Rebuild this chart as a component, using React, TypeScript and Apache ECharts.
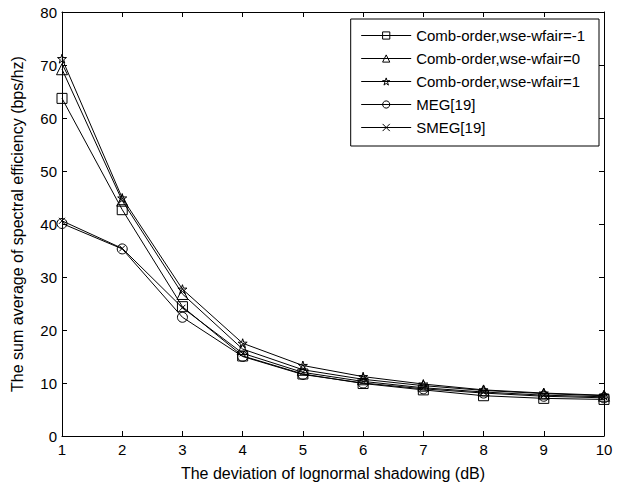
import React, { useEffect, useRef } from "react";
import * as echarts from "echarts";

const xValues = [1, 2, 3, 4, 5, 6, 7, 8, 9, 10];
const combNeg1 = [63.7, 42.7, 24.4, 15.1, 11.7, 9.9, 8.7, 7.6, 7.1, 6.9];
const comb0 = [69.2, 44.4, 26.8, 16.4, 12.5, 10.7, 9.5, 8.6, 8.0, 7.6];
const comb1 = [71.2, 44.9, 27.7, 17.5, 13.3, 11.2, 9.8, 8.7, 8.1, 7.7];
const meg = [40.1, 35.3, 22.4, 15.0, 11.6, 10.0, 8.9, 8.1, 7.5, 7.2];
const smeg = [40.6, 35.4, 24.2, 15.6, 12.0, 10.3, 9.1, 8.3, 7.7, 7.4];

const seriesNames = [
  "Comb-order,wse-wfair=-1",
  "Comb-order,wse-wfair=0",
  "Comb-order,wse-wfair=1",
  "MEG[19]",
  "SMEG[19]",
];

const STAR =
  "path://M0 -10 L2.245 -3.09 L9.511 -3.09 L3.633 1.18 L5.878 8.09 L0 3.82 L-5.878 8.09 L-3.633 1.18 L-9.511 -3.09 L-2.245 -3.09 Z";
const CROSS = "path://M0 0 L10 10 M10 0 L0 10";

const FONT = "Liberation Sans, Arial, sans-serif";

export default function App() {
  const ref = useRef<HTMLDivElement>(null);
  useEffect(() => {
    if (!ref.current) return;
    const chart = echarts.init(ref.current, undefined, { renderer: "svg" });
    const allData = [combNeg1, comb0, comb1, meg, smeg];
    const symbols = ["rect", "triangle", STAR, "circle", CROSS];
    const sizes = [10, 11, 9, 10, 6];
    const axisCommon = {
      type: "value" as const,
      axisLine: { show: true, onZero: false, lineStyle: { color: "#000", width: 1 } },
      axisTick: { show: true, inside: true, length: 5, lineStyle: { color: "#000" } },
      splitLine: { show: false },
    };
    chart.setOption({
      animation: false,
      backgroundColor: "#fff",
      grid: { left: 62, right: 22, top: 12, bottom: 47 },
      legend: {
        orient: "vertical",
        right: 27,
        top: 19,
        itemWidth: 50,
        itemHeight: 9,
        itemGap: 8,
        padding: [9, 14, 11, 10],
        borderColor: "#000",
        borderWidth: 1,
        backgroundColor: "#fff",
        itemStyle: { color: "rgba(255,255,255,0)", borderColor: "#000", borderWidth: 1 },
        lineStyle: { color: "#000", width: 1 },
        textStyle: { fontFamily: FONT, fontSize: 15, color: "#000" },
        data: seriesNames,
      },
      xAxis: [
        {
          ...axisCommon,
          min: 1,
          max: 10,
          interval: 1,
          position: "bottom",
          name: "The deviation of lognormal shadowing (dB)",
          nameLocation: "middle",
          nameGap: 29,
          nameTextStyle: { fontFamily: FONT, fontSize: 16, color: "#000" },
          axisLabel: { fontFamily: FONT, fontSize: 15, color: "#000", margin: 6 },
        },
        {
          ...axisCommon,
          min: 1,
          max: 10,
          interval: 1,
          position: "top",
          axisLabel: { show: false },
        },
      ],
      yAxis: [
        {
          ...axisCommon,
          min: 0,
          max: 80,
          interval: 10,
          position: "left",
          name: "The sum average of spectral efficiency (bps/hz)",
          nameLocation: "middle",
          nameGap: 37,
          nameTextStyle: { fontFamily: FONT, fontSize: 16, color: "#000" },
          axisLabel: { fontFamily: FONT, fontSize: 15, color: "#000", margin: 5 },
        },
        {
          ...axisCommon,
          min: 0,
          max: 80,
          interval: 10,
          position: "right",
          axisLabel: { show: false },
        },
      ],
      series: seriesNames.map((name, i) => ({
        name,
        type: "line",
        xAxisIndex: 0,
        yAxisIndex: 0,
        data: xValues.map((x, j) => [x, allData[i][j]]),
        symbol: symbols[i],
        symbolSize: sizes[i],
        showAllSymbol: true,
        lineStyle: { color: "#000", width: 1 },
        itemStyle: { color: "rgba(255,255,255,0)", borderColor: "#000", borderWidth: 1 },
        emphasis: { disabled: true },
      })),
    });
    return () => chart.dispose();
  }, []);
  return (
    <div
      ref={ref}
      style={{ position: "fixed", left: 0, top: 0, width: 626, height: 486, background: "#fff" }}
    />
  );
}
